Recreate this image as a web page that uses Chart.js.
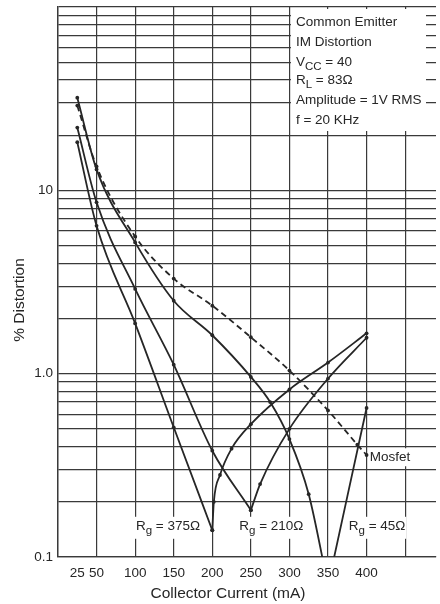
<!DOCTYPE html>
<html>
<head>
<meta charset="utf-8">
<script src="https://cdn.jsdelivr.net/npm/chart.js@4.4.0/dist/chart.umd.min.js"></script>
<style>
    html, body { margin: 0; padding: 0; background: #fff; }
</style>
</head>
<body>
<canvas id="graficoDistorcao" width="440" height="604"></canvas>
<script>
// Corrente de coletor (mA) e distorção IM (%) de cada curva
const correnteMosfet = [25, 50, 100, 150, 200, 250, 300, 350, 388, 400];
const distMosfet     = [29, 13.5, 5.6, 3.3, 2.35, 1.58, 1.04, 0.63, 0.41, 0.36];

const corrente375 = [25, 50, 100, 150, 200, 202, 210, 225, 250, 300, 350, 400];
const dist375     = [18.3, 6.4, 1.88, 0.51, 0.14, 0.2, 0.28, 0.39, 0.53, 0.82, 1.15, 1.66];

const corrente210 = [25, 50, 100, 150, 200, 250, 262, 300, 350, 400];
const dist210     = [22, 8.6, 2.9, 1.12, 0.38, 0.18, 0.25, 0.5, 0.94, 1.57];

const corrente45 = [25, 50, 100, 150, 200, 250, 275, 300, 325, 350, 400];
const dist45     = [32, 13, 5.2, 2.5, 1.62, 0.96, 0.7, 0.44, 0.22, 0.07, 0.65];

// Eixos
const ticksX = [0, 25, 50, 100, 150, 200, 250, 300, 350, 400, 450];
const rotulosX = [25, 50, 100, 150, 200, 250, 300, 350, 400];
const ticksY = [0.1, 0.2, 0.3, 0.4, 0.5, 0.6, 0.7, 0.8, 0.9,
                1, 2, 3, 4, 5, 6, 7, 8, 9,
                10, 20, 30, 40, 50, 60, 70, 80, 90, 100];
const rotulosY = { 0.1: '0.1', 1: '1.0', 10: '10' };

// Condições de teste (texto, subscrito, resto)
const condicoes = [
    ['Common Emitter', '', ''],
    ['IM Distortion', '', ''],
    ['V', 'CC', ' = 40'],
    ['R', 'L', ' = 83Ω'],
    ['Amplitude = 1V RMS', '', ''],
    ['f = 20 KHz', '', '']
];

const fonte = '"Liberation Sans", Arial, sans-serif';
const corTinta = '#262626';

// Junta x/y em pontos
function pontos(xs, ys) {
    return xs.map((x, i) => ({ x: x, y: ys[i] }));
}

// Divide a curva no ponto mínimo para manter o "V" com ponta aguda
function ramos(xs, ys) {
    const iMin = ys.indexOf(Math.min(...ys));
    const todos = pontos(xs, ys);
    return [todos.slice(0, iMin + 1), todos.slice(iMin)];
}

function estiloLinha(dados, tracejado) {
    return {
        data: dados,
        borderColor: corTinta,
        borderWidth: 1.8,
        borderDash: tracejado ? [6, 4] : [],
        pointRadius: 1.9,
        pointBackgroundColor: corTinta,
        pointBorderWidth: 0,
        cubicInterpolationMode: 'monotone',
        fill: false
    };
}

// Texto com subscrito (ex.: R com g)
function textoSub(ctx, x, y, principal, sub, resto, tam) {
    ctx.font = `${tam}px ${fonte}`;
    ctx.fillText(principal, x, y);
    let px = x + ctx.measureText(principal).width;
    if (sub) {
        ctx.font = `${tam - 2}px ${fonte}`;
        ctx.fillText(sub, px, y + 5);
        px += ctx.measureText(sub).width;
        ctx.font = `${tam}px ${fonte}`;
    }
    if (resto) {
        ctx.fillText(resto, px, y);
        px += ctx.measureText(resto).width;
    }
    return px - x;
}

function larguraSub(ctx, principal, sub, resto, tam) {
    ctx.font = `${tam}px ${fonte}`;
    let w = ctx.measureText(principal + resto).width;
    ctx.font = `${tam - 2}px ${fonte}`;
    w += ctx.measureText(sub).width;
    return w;
}

// Rótulos das curvas: [principal, sub, resto, corrente (mA), distorção (%)]
const rotulosCurvas = [
    ['R', 'g', ' = 375Ω', 101, 0.148],
    ['R', 'g', ' = 210Ω', 235, 0.148],
    ['R', 'g', ' = 45Ω', 377, 0.148],
    ['Mosfet', '', '', 404, 0.35]
];

const anotacoes = {
    id: 'anotacoes',
    beforeDatasetsDraw(chart) {
        const { ctx, chartArea: a, scales: { x, y } } = chart;
        ctx.save();
        ctx.textBaseline = 'middle';

        // Caixa com as condições de teste
        const caixaX = x.getPixelForValue(300) + 1.5;
        ctx.fillStyle = '#fff';
        ctx.fillRect(caixaX, a.top + 2, a.right - 10 - caixaX, 122);
        ctx.fillStyle = corTinta;
        const alturas = [15, 35, 55, 73, 93, 113];
        condicoes.forEach((c, i) => {
            textoSub(ctx, caixaX + 5, a.top + alturas[i], c[0], c[1], c[2], 13.5);
        });

        // Rótulos das curvas com fundo branco
        rotulosCurvas.forEach(r => {
            const px = x.getPixelForValue(r[3]);
            const py = y.getPixelForValue(r[4]);
            const w = larguraSub(ctx, r[0], r[1], r[2], 13.5);
            ctx.fillStyle = '#fff';
            ctx.fillRect(px - 1, py - 9, w + 2, r[1] ? 22 : 18);
            ctx.fillStyle = corTinta;
            textoSub(ctx, px, py, r[0], r[1], r[2], 13.5);
        });
        ctx.restore();
    },
    afterDraw(chart) {
        const { ctx } = chart;
        ctx.save();
        ctx.fillStyle = corTinta;
        ctx.textAlign = 'center';
        ctx.textBaseline = 'middle';
        ctx.font = `15.5px ${fonte}`;
        ctx.fillText('Collector Current (mA)', 228, 594);
        ctx.translate(20, 300);
        ctx.rotate(-Math.PI / 2);
        ctx.fillText('% Distortion', 0, 0);
        ctx.restore();
    }
};

function criarGrafico() {
    const ctx = document.getElementById('graficoDistorcao').getContext('2d');
    const [desce375, sobe375] = ramos(corrente375, dist375);
    const [desce210, sobe210] = ramos(corrente210, dist210);
    const [desce45, sobe45] = ramos(corrente45, dist45);

    window.graficoDistorcao = new Chart(ctx, {
        type: 'line',
        data: {
            datasets: [
                estiloLinha(pontos(correnteMosfet, distMosfet), true),
                estiloLinha(desce375), estiloLinha(sobe375),
                estiloLinha(desce210), estiloLinha(sobe210),
                estiloLinha(desce45), estiloLinha(sobe45)
            ]
        },
        options: {
            responsive: false,
            animation: false,
            devicePixelRatio: 1,
            layout: { padding: { top: 7, left: 0, right: 0, bottom: 0 } },
            scales: {
                x: {
                    type: 'linear',
                    min: 0,
                    max: 490,
                    afterBuildTicks: s => { s.ticks = ticksX.map(v => ({ value: v })); },
                    afterFit: s => {
                        s.height = 47;
                        s.paddingLeft = 0;
                        s.paddingRight = 0;
                    },
                    ticks: {
                        autoSkip: false,
                        maxRotation: 0,
                        padding: 8,
                        color: corTinta,
                        font: { family: fonte, size: 13.5 },
                        callback: v => rotulosX.includes(v) ? String(v) : ''
                    },
                    grid: {
                        drawTicks: false,
                        lineWidth: 1.2,
                        color: c => (c.tick && c.tick.value === 25) ? 'rgba(0,0,0,0)' : '#3a3a3a'
                    },
                    border: { color: '#3a3a3a', width: 1.2 }
                },
                y: {
                    type: 'logarithmic',
                    min: 0.1,
                    max: 100,
                    afterBuildTicks: s => { s.ticks = ticksY.map(v => ({ value: v })); },
                    afterFit: s => {
                        s.width = 58;
                        s.paddingTop = 0;
                        s.paddingBottom = 0;
                    },
                    ticks: {
                        autoSkip: false,
                        padding: 5,
                        color: corTinta,
                        font: { family: fonte, size: 13.5 },
                        callback: v => rotulosY[v] || ''
                    },
                    grid: { drawTicks: false, lineWidth: 1.2, color: '#3a3a3a' },
                    border: { color: '#3a3a3a', width: 1.4 }
                }
            },
            plugins: {
                legend: { display: false },
                tooltip: { enabled: false }
            }
        },
        plugins: [anotacoes]
    });
}

criarGrafico();
</script>
</body>
</html>
